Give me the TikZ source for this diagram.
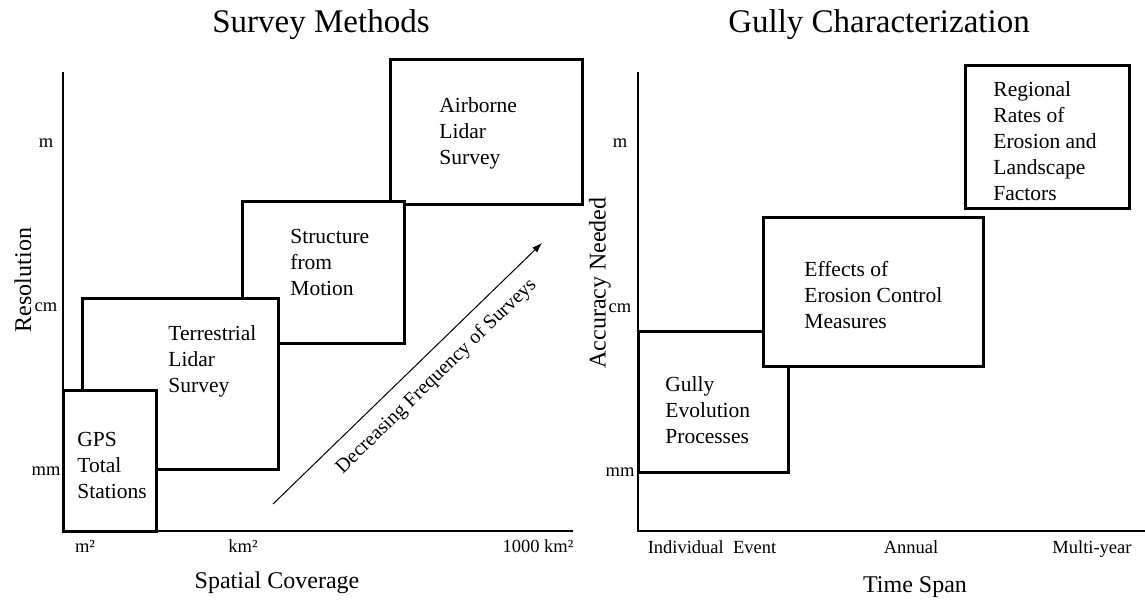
\documentclass[tikz,border=0pt]{standalone}
\usepackage{fontspec}
\setmainfont{Liberation Serif}
\usetikzlibrary{positioning, arrows.meta}

\begin{document}
\begin{tikzpicture}[
    % One unit is one pixel of the original figure (y runs downwards)
    x=0.5pt, y=-0.5pt,
    % Define the style for the boxes
    box/.style={draw, fill=white, line width=1.5pt},
    boxtext/.style={align=left, anchor=west, inner sep=0pt,
                    font=\fontsize{10.75}{13}\selectfont},
    % Define the axes and their labels
    axis/.style={line width=0.8pt},
    tick/.style={inner sep=0pt, font=\fontsize{9.25}{11}\selectfont},
    axislabel/.style={inner sep=0pt, font=\fontsize{12}{14}\selectfont},
    paneltitle/.style={inner sep=0pt, font=\fontsize{16.5}{20}\selectfont}
]

    % --- Configuration ---
    \def\lx{63}   % left y axis
    \def\rx{638}  % right y axis
    \def\ay{531}  % both x axes

    \useasboundingbox (0,0) rectangle (1145,601);

    % --- Left panel: Survey Methods ---
    \node[paneltitle] (ltitle) at (321,25) {Survey Methods};
    \draw[axis] (\lx,72) -- (\lx,\ay) -- (573,\ay);

    \foreach \lab/\ypos [count=\i] in {m/143, cm/307, mm/471} {
        \node[tick] (ly\i) at (46,\ypos) {\lab};
    }
    % x labels sit on a common baseline
    \foreach \lab/\xpos [count=\i] in {m²/85, km²/243, 1000 km²/538} {
        \node[tick, anchor=base] (lx\i) at (\xpos,552) {\lab};
    }
    \node[axislabel] (lxlabel) at (277,583) {Spatial Coverage};
    \node[axislabel, rotate=90] (lylabel) at (23,280) {Resolution};

    % Boxes are drawn from back to front
    \draw[box] (390,59) rectangle (582,204);
    \node[boxtext] (airborne) at (439,133) {Airborne\\Lidar\\Survey};

    \draw[box] (242,201) rectangle (404,343);
    \node[boxtext] (sfm) at (290,262) {Structure\\from\\Motion};

    \draw[box] (82,298) rectangle (278,469);
    \node[boxtext] (tls) at (168,361) {Terrestrial\\Lidar\\Survey};

    \draw[box] (\lx,390) rectangle (156,\ay);
    \node[boxtext] (gps) at (77,465) {GPS\\Total\\Stations};

    % Trend arrow
    \coordinate (trendstart) at (273,504);
    \coordinate (trendend) at (542,243);
    \draw[line width=0.5pt, -{Latex[length=5pt, width=3.5pt]}] (trendstart) -- (trendend)
        node[pos=0.55, sloped, below=3pt, font=\fontsize{10}{12}\selectfont] (trend)
        {Decreasing Frequency of Surveys};

    % --- Right panel: Gully Characterization ---
    \node[paneltitle] (rtitle) at (879,25) {Gully Characterization};
    \draw[axis] (\rx,72) -- (\rx,\ay) -- (1145,\ay);

    \foreach \lab/\ypos [count=\i] in {m/143, cm/308, mm/472} {
        \node[tick] (ry\i) at (620,\ypos) {\lab};
    }
    \foreach \lab/\xpos [count=\i] in {Individual~ Event/712, Annual/911, Multi-year/1092} {
        \node[tick, anchor=base] (rx\i) at (\xpos,553) {\lab};
    }
    \node[axislabel] (rxlabel) at (915,587) {Time Span};
    \node[axislabel, rotate=90] (rylabel) at (600,283) {Accuracy Needed};

    \draw[box] (965,65) rectangle (1129,208);
    \node[boxtext] (regional) at (993,141)
        {Regional\\Rates of\\Erosion and\\Landscape\\Factors};

    \draw[box] (\rx,331) rectangle (788,472);
    \node[boxtext] (evolution) at (665,410) {Gully\\Evolution\\Processes};

    \draw[box] (763,217) rectangle (983,366);
    \node[boxtext] (control) at (804,295) {Effects of\\Erosion Control\\Measures};

\end{tikzpicture}
\end{document}
